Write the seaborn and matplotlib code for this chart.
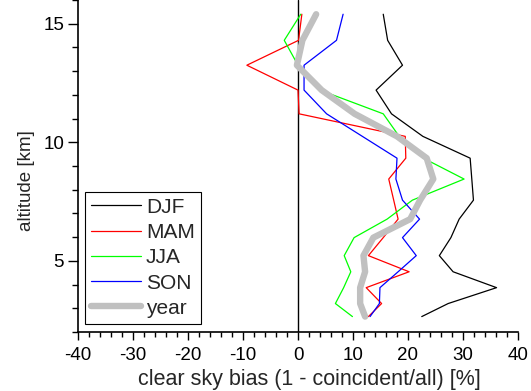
import numpy as np
import pandas as pd
import matplotlib
matplotlib.use("Agg")
import matplotlib.pyplot as plt
import seaborn as sns
from matplotlib.ticker import MultipleLocator

# altitude levels [km]
altitude = [15.4, 14.3, 13.25, 12.2, 11.2, 10.25, 9.33, 8.45, 7.56, 6.76, 5.98, 5.22, 4.54, 3.87, 3.2, 2.65]

# clear sky bias [%] per season
djf = [15.5, 16.3, 19.0, 14.2, 17.0, 22.7, 31.3, 31.6, 31.9, 29.3, 27.8, 25.7, 28.2, 36.1, 27.3, 22.5]
mam = [0.7, 0.1, -9.3, 0.0, 0.2, 19.5, 19.6, 16.5, 17.4, 18.2, 15.5, 12.8, 20.2, 12.4, 15.2, 12.8]
jja = [0.5, -2.5, 0.0, 4.0, 15.5, 18.4, 22.8, 30.2, 20.8, 16.2, 10.2, 8.4, 9.6, 8.3, 6.8, 9.9]
son = [8.2, 7.0, 1.1, 1.1, 5.2, 11.7, 18.0, 17.8, 19.0, 22.1, 19.0, 21.5, 18.2, 14.9, 14.8, 13.1]
year = [3.3, 0.8, -0.2, 4.3, 10.3, 18.0, 23.4, 24.6, 22.2, 20.4, 13.7, 11.9, 12.2, 11.3, 11.3, 12.2]

series = ["DJF", "MAM", "JJA", "SON", "year"]
values = [djf, mam, jja, son, year]
colors = ["black", "#ff0000", "#00ff00", "#0000ff", "#c0c0c0"]
widths = [0.9, 0.9, 0.9, 0.9, 4.6]

sns.set_style("ticks")
plt.rcParams['font.family'] = ['Liberation Sans', 'DejaVu Sans']
plt.rcParams['axes.unicode_minus'] = False

fig = plt.figure(figsize=(5.31, 3.91), dpi=100)
ax = fig.add_axes([78 / 531, 1 - 332 / 391, 440 / 531, 332 / 391])

# zero line
ax.axvline(0, color="black", lw=1.0, zorder=1)

for name, vals, col, lw in zip(series, values, colors, widths):
    df = pd.DataFrame({"bias": vals, "alt": altitude})
    sns.lineplot(data=df, x="bias", y="alt", sort=False, orient="y", estimator=None,
                 color=col, lw=lw, label=name, ax=ax, zorder=3 if name == "year" else 2)

ax.set_xlim(-40, 40)
ax.set_ylim(2, 16)
ax.xaxis.set_major_locator(MultipleLocator(10))
ax.xaxis.set_minor_locator(MultipleLocator(2))
ax.yaxis.set_major_locator(MultipleLocator(5))
ax.yaxis.set_minor_locator(MultipleLocator(1))
ax.tick_params(which="both", width=1.0, color="black", labelcolor="black", labelsize=13.5)
ax.tick_params(axis="x", which="major", length=6, pad=5)
ax.tick_params(axis="x", which="minor", length=3.5)
ax.tick_params(axis="y", which="major", length=7, pad=3)
ax.tick_params(axis="y", which="minor", length=4)
for s in ["left", "bottom"]:
    ax.spines[s].set_linewidth(1.2)
    ax.spines[s].set_color("black")
ax.spines["top"].set_visible(False)
ax.spines["right"].set_visible(False)

ax.set_xlabel("clear sky bias (1 - coincident/all) [%]", fontsize=15.5)
ax.set_ylabel("altitude [km]", fontsize=13.5)
ax.xaxis.set_label_coords(0.525, -0.112)
ax.yaxis.set_label_coords(-0.098, 0.455)

leg = ax.legend(loc="lower left", bbox_to_anchor=(0.015, 0.024), borderaxespad=0,
                fontsize=15, frameon=True, fancybox=False, framealpha=1,
                edgecolor="black", handlelength=2.4, labelspacing=0.3,
                handletextpad=0.25, borderpad=0.3)
leg.get_frame().set_linewidth(0.8)

fig.savefig("out.png", dpi=100)
